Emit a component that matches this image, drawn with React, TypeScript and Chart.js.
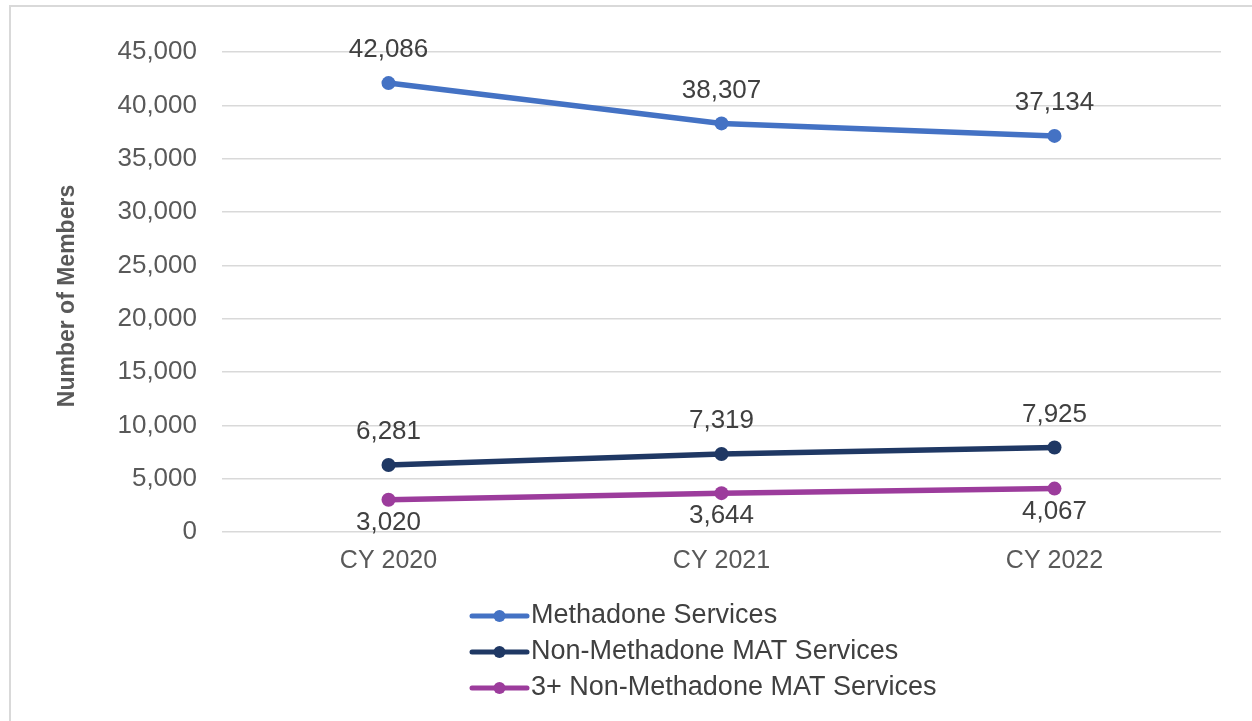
import React, { useEffect, useRef } from "react";
import { Chart, registerables } from "chart.js";

Chart.register(...registerables);

const categories = ["CY 2020", "CY 2021", "CY 2022"];
const methadone = [42086, 38307, 37134];
const nonMethadone = [6281, 7319, 7925];
const threePlus = [3020, 3644, 4067];
const seriesNames = [
  "Methadone Services",
  "Non-Methadone MAT Services",
  "3+ Non-Methadone MAT Services",
];
const seriesColors = ["#4472C4", "#1F3864", "#9C3C9C"];
const labelPositions = ["above", "above", "below"];
const yTitle = "Number of Members";

const FONT = "Arial, 'Liberation Sans', sans-serif";

const framePlugin = {
  id: "frame",
  beforeDraw(chart: any) {
    const ctx = chart.ctx;
    ctx.save();
    ctx.fillStyle = "#ffffff";
    ctx.fillRect(0, 0, chart.width, chart.height);
    ctx.strokeStyle = "#d9d9d9";
    ctx.lineWidth = 2;
    ctx.strokeRect(10, 6, chart.width + 20, chart.height + 20);
    ctx.restore();
  },
};

const yTitlePlugin = {
  id: "yTitleCustom",
  afterDraw(chart: any) {
    const ctx = chart.ctx;
    const area = chart.chartArea;
    ctx.save();
    ctx.translate(68, (area.top + area.bottom) / 2 + 4);
    ctx.rotate(-Math.PI / 2);
    ctx.font = `bold 23px ${FONT}`;
    ctx.fillStyle = "#595959";
    ctx.textAlign = "center";
    ctx.textBaseline = "middle";
    ctx.fillText(yTitle, 0, 0);
    ctx.restore();
  },
};

const dataLabelPlugin = {
  id: "dataLabelsCustom",
  afterDatasetsDraw(chart: any) {
    const ctx = chart.ctx;
    ctx.save();
    ctx.font = `26px ${FONT}`;
    ctx.fillStyle = "#404040";
    ctx.textAlign = "center";
    ctx.textBaseline = "middle";
    chart.data.datasets.forEach((ds: any, i: number) => {
      const meta = chart.getDatasetMeta(i);
      meta.data.forEach((pt: any, j: number) => {
        const v = ds.data[j] as number;
        const dy = labelPositions[i] === "above" ? -33 : 23;
        ctx.fillText(v.toLocaleString("en-US"), pt.x, pt.y + dy);
      });
    });
    ctx.restore();
  },
};

const legendPlugin = {
  id: "customLegend",
  afterDraw(chart: any) {
    const ctx = chart.ctx;
    ctx.save();
    const x0 = 472;
    const x1 = 527;
    const ys = [616, 652, 688];
    ctx.font = `27px ${FONT}`;
    ctx.textBaseline = "middle";
    ctx.textAlign = "left";
    seriesNames.forEach((name, i) => {
      const y = ys[i];
      ctx.strokeStyle = seriesColors[i];
      ctx.lineWidth = 5;
      ctx.lineCap = "round";
      ctx.beginPath();
      ctx.moveTo(x0, y);
      ctx.lineTo(x1, y);
      ctx.stroke();
      ctx.fillStyle = seriesColors[i];
      ctx.beginPath();
      ctx.arc((x0 + x1) / 2, y, 6, 0, Math.PI * 2);
      ctx.fill();
      ctx.fillStyle = "#404040";
      ctx.fillText(name, 531, y);
    });
    ctx.restore();
  },
};

export default function App() {
  const ref = useRef<HTMLCanvasElement | null>(null);

  useEffect(() => {
    document.body.style.margin = "0";
    if (!ref.current) return;
    const values = [methadone, nonMethadone, threePlus];
    const chart = new Chart(ref.current, {
      type: "line",
      data: {
        labels: categories,
        datasets: values.map((d, i) => ({
          label: seriesNames[i],
          data: d,
          borderColor: seriesColors[i],
          backgroundColor: seriesColors[i],
          borderWidth: 5.5,
          pointRadius: 7,
          pointHoverRadius: 7,
          pointBorderWidth: 0,
          tension: 0,
          fill: false,
        })),
      },
      options: {
        responsive: false,
        animation: false,
        layout: { padding: { left: 0, right: 31, top: 52, bottom: 0 } },
        plugins: {
          legend: { display: false },
          tooltip: { enabled: false },
        },
        scales: {
          x: {
            offset: true,
            grid: { display: false },
            border: { display: false },
            ticks: {
              color: "#595959",
              font: { family: FONT, size: 25 },
              padding: 6,
            },
            afterFit: (s: any) => {
              s.height = 189;
            },
          },
          y: {
            min: 0,
            max: 45000,
            grid: { color: "#d9d9d9", lineWidth: 1.5, drawTicks: false },
            border: { display: false },
            ticks: {
              stepSize: 5000,
              color: "#595959",
              font: { family: FONT, size: 26 },
              padding: 25,
              callback: (v: any) => Number(v).toLocaleString("en-US"),
            },
            afterFit: (s: any) => {
              s.width = 222;
            },
          },
        },
      },
      plugins: [framePlugin, dataLabelPlugin, legendPlugin, yTitlePlugin],
    });
    return () => chart.destroy();
  }, []);

  return (
    <div style={{ width: 1252, height: 721 }}>
      <canvas ref={ref} width={1252} height={721} />
    </div>
  );
}
